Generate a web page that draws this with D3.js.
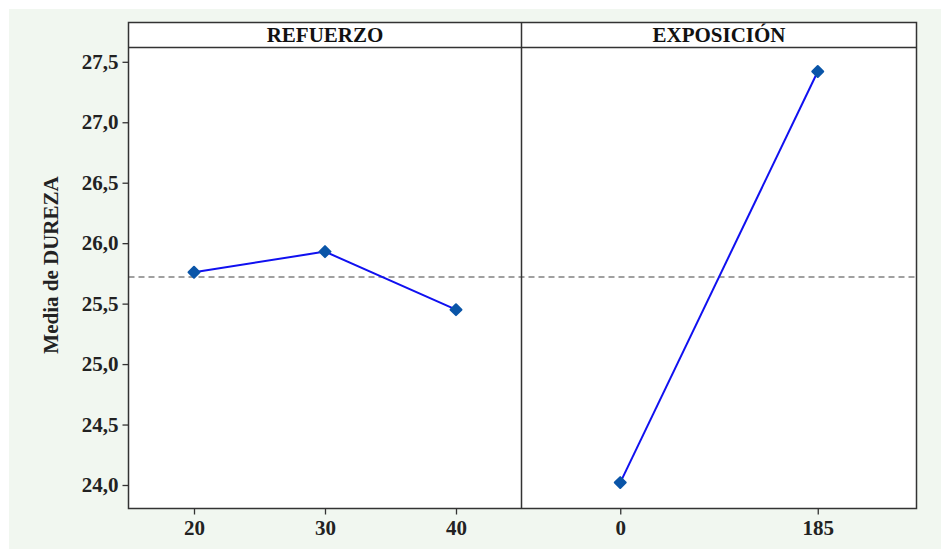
<!DOCTYPE html>
<html><head><meta charset="utf-8">
<script src="https://cdn.jsdelivr.net/npm/d3@7"></script>
<style>body{margin:0;background:#fff;} svg{display:block;}</style>
</head><body>
<svg id="c" width="943" height="549"></svg>
<script>
const refuerzoCats = ["20", "30", "40"];
const refuerzoMeans = [25.76, 25.93, 25.45];
const exposicionCats = ["0", "185"];
const exposicionMeans = [24.02, 27.42];
const grandMean = 25.72;
const yTicks = [24.0, 24.5, 25.0, 25.5, 26.0, 26.5, 27.0, 27.5];
const panelTitles = ["REFUERZO", "EXPOSICIÓN"];
const yTitle = "Media de DUREZA";

const svg = d3.select("#c");
const font = "'Liberation Serif', 'Times New Roman', serif";
const fs = 21;
svg.append("rect").attr("x", 9).attr("y", 9).attr("width", 932).attr("height", 545).attr("fill", "#f1f7f0");

const L = 128.5, R = 916.5, T = 22.5, S = 47.5, B = 508.5, M = 521.5;
const y = d3.scaleLinear().domain([24, 27.5]).range([485, 61.8]);

svg.append("rect").attr("x", L).attr("y", T).attr("width", R - L).attr("height", B - T).attr("fill", "#fff");

const panels = [
  {cats: refuerzoCats, vals: refuerzoMeans, x0: L, x1: M, title: panelTitles[0]},
  {cats: exposicionCats, vals: exposicionMeans, x0: M, x1: R, title: panelTitles[1]}
];

svg.append("line").attr("x1", L).attr("x2", R).attr("y1", y(grandMean)).attr("y2", y(grandMean))
  .attr("stroke", "#a0a0a0").attr("stroke-width", 2).attr("stroke-dasharray", "6,4");

panels.forEach(p => {
  const x = d3.scalePoint().domain(p.cats).range([p.x0, p.x1]).padding(0.5);
  const g = svg.append("g");
  const pts = p.cats.map((c, i) => [x(c), y(p.vals[i])]);
  g.append("path").attr("d", d3.line()(pts)).attr("fill", "none").attr("stroke", "#1010f0").attr("stroke-width", 2);
  g.selectAll("path.m").data(pts).enter().append("path").attr("class", "m")
    .attr("d", d3.symbol().type(d3.symbolSquare).size(60))
    .attr("transform", d => `translate(${d[0]},${d[1]}) rotate(45)`)
    .attr("fill", "#0a55a8").attr("stroke", "#0a55a8").attr("stroke-width", 2).attr("stroke-linejoin", "round");
  const ax = svg.append("g").attr("transform", `translate(0,${B})`)
    .call(d3.axisBottom(x).tickSize(6).tickSizeOuter(0));
  ax.select(".domain").remove();
  ax.selectAll("line").attr("stroke", "#333").attr("stroke-width", 1.3);
  ax.selectAll("text").attr("font-family", font).attr("font-weight", "bold").attr("font-size", fs)
    .attr("fill", "#222").attr("dy", "0.85em");
  svg.append("text").attr("x", (p.x0 + p.x1) / 2).attr("y", 42).attr("text-anchor", "middle")
    .attr("font-family", font).attr("font-weight", "bold").attr("font-size", fs).attr("fill", "#111").text(p.title);
});

const fr = svg.append("g").attr("fill", "none").attr("stroke", "#333").attr("stroke-width", 1.5);
fr.append("rect").attr("x", L).attr("y", T).attr("width", R - L).attr("height", B - T);
fr.append("line").attr("x1", L).attr("x2", R).attr("y1", S).attr("y2", S);
fr.append("line").attr("x1", M).attr("x2", M).attr("y1", T).attr("y2", B);

const ay = svg.append("g").attr("transform", `translate(${L},0)`)
  .call(d3.axisLeft(y).tickValues(yTicks).tickSize(6).tickFormat(d => d3.format(".1f")(d).replace(".", ",")));
ay.select(".domain").remove();
ay.selectAll("line").attr("stroke", "#333").attr("stroke-width", 1.3);
ay.selectAll("text").attr("font-family", font).attr("font-weight", "bold").attr("font-size", fs).attr("fill", "#222").attr("x", -10);

svg.append("text").attr("transform", `translate(58,${265}) rotate(-90)`).attr("text-anchor", "middle")
  .attr("font-family", font).attr("font-weight", "bold").attr("font-size", fs).attr("fill", "#222").text(yTitle);
</script>
</body></html>
